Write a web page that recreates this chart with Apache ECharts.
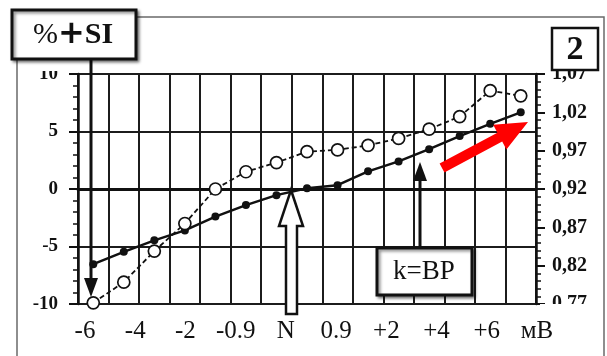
<!DOCTYPE html>
<html>
<head>
<meta charset="utf-8">
<title>%+SI / k</title>
<script src="https://cdn.jsdelivr.net/npm/echarts@6/dist/echarts.min.js"></script>
<style>
  html, body { margin: 0; padding: 0; background: #ffffff; }
  #chart { width: 607px; height: 356px; }
</style>
</head>
<body>
<div id="chart"></div>
<script>
// Measurement steps along the x axis (15 points, one per grid column)
var steps = ['1', '2', '3', '4', '5', '6', '7', '8', '9', '10', '11', '12', '13', '14', '15'];

// Printed labels under the plot
var tickLabels = ['-6', '-4', '-2', '-0.9', 'N', '0.9', '+2', '+4', '+6', 'мВ'];

// %+SI values, left axis (open circles, dashed line)
var siValues = [-9.9, -8.1, -5.4, -3.0, 0.0, 1.5, 2.3, 3.25, 3.4, 3.8, 4.4, 5.2, 6.3, 8.55, 8.1];

// k = BP values, right axis (filled dots, solid line)
var kValues = [0.822, 0.838, 0.853, 0.866, 0.884, 0.899, 0.912, 0.921, 0.925, 0.943, 0.956, 0.972, 0.989, 1.005, 1.020];

// Axis ranges
var leftAxis = { min: -10, max: 10, step: 5 };
var rightAxis = { min: 0.77, max: 1.07, step: 0.05 };

var SERIF = '"Liberation Serif", "Times New Roman", serif';
var INK = '#111111';

var chart = echarts.init(document.getElementById('chart'), null, { renderer: 'canvas' });

var option = {
  animation: false,
  backgroundColor: '#ffffff',
  grid: [
    { left: 78, right: 71, top: 74, bottom: 52, containLabel: false },
    { left: 85, right: 70, top: 74, bottom: 52, containLabel: false }
  ],
  xAxis: [
    {
      type: 'category',
      gridIndex: 0,
      data: steps,
      boundaryGap: true,
      axisLine: { show: true, onZero: true, lineStyle: { color: INK, width: 3 } },
      axisTick: { show: false },
      axisLabel: { show: false },
      splitLine: { show: true, interval: 0, lineStyle: { color: '#1c1c1c', width: 2 } }
    },
    {
      type: 'category',
      gridIndex: 1,
      data: tickLabels,
      boundaryGap: false,
      z: 20,
      axisLine: { show: false },
      axisTick: { show: false },
      splitLine: { show: false },
      axisLabel: {
        show: true,
        interval: 0,
        margin: 15,
        color: INK,
        fontFamily: SERIF,
        fontSize: 25
      }
    }
  ],
  yAxis: [
    {
      type: 'value',
      gridIndex: 0,
      position: 'left',
      min: leftAxis.min,
      max: leftAxis.max,
      interval: leftAxis.step,
      axisLine: { show: true, lineStyle: { color: INK, width: 2.5 } },
      axisTick: { show: true, inside: false, length: 9, lineStyle: { color: INK, width: 2 } },
      minorTick: { show: true, splitNumber: 5, length: 5, lineStyle: { color: INK, width: 1.5 } },
      splitLine: { show: true, lineStyle: { color: '#1c1c1c', width: 2 } },
      axisLabel: {
        margin: 20,
        color: INK,
        fontFamily: SERIF,
        fontWeight: 'bold',
        fontSize: 19
      }
    },
    {
      type: 'value',
      gridIndex: 0,
      position: 'right',
      min: rightAxis.min,
      max: rightAxis.max,
      interval: rightAxis.step,
      axisLine: { show: true, lineStyle: { color: INK, width: 2.5 } },
      axisTick: { show: true, inside: false, length: 9, lineStyle: { color: INK, width: 2 } },
      minorTick: { show: true, splitNumber: 5, length: 5, lineStyle: { color: INK, width: 1.5 } },
      splitLine: { show: false },
      axisLabel: {
        margin: 16,
        color: INK,
        fontFamily: SERIF,
        fontWeight: 'bold',
        fontSize: 20,
        formatter: function (v) { return v.toFixed(2).replace('.', ','); }
      }
    },
    {
      type: 'value',
      gridIndex: 1,
      show: false,
      min: 0,
      max: 1
    }
  ],
  series: [
    {
      name: 'k',
      type: 'line',
      xAxisIndex: 0,
      yAxisIndex: 1,
      data: kValues,
      z: 3,
      symbol: 'circle',
      symbolSize: 8,
      itemStyle: { color: INK },
      lineStyle: { color: INK, width: 2.5, type: 'solid' }
    },
    {
      name: '%+SI',
      type: 'line',
      xAxisIndex: 0,
      yAxisIndex: 0,
      data: siValues,
      z: 4,
      clip: false,
      symbol: 'circle',
      symbolSize: 12,
      itemStyle: { color: '#ffffff', borderColor: INK, borderWidth: 1.7 },
      lineStyle: { color: INK, width: 1.8, type: [5, 3] }
    }
  ],
  graphic: [
    // outer panel frame
    { type: 'rect', z: 1, shape: { x: 17, y: 17, width: 587, height: 360 },
      style: { fill: null, stroke: '#6a6a6a', lineWidth: 1.5 } },
    // white margins above and at the lower right of the plot
    { type: 'rect', z: 10, shape: { x: 19, y: 19, width: 584, height: 52 },
      style: { fill: '#ffffff' } },
    { type: 'rect', z: 10, shape: { x: 540, y: 304, width: 62, height: 20 },
      style: { fill: '#ffffff' } },

    // "%+SI" caption box with arrow down to the first point
    { type: 'line', z: 30, shape: { x1: 91, y1: 58, x2: 91, y2: 282 },
      style: { stroke: INK, lineWidth: 3 } },
    { type: 'polygon', z: 30, shape: { points: [[84, 278], [98, 278], [91, 297]] },
      style: { fill: INK } },
    { type: 'rect', z: 40, shape: { x: 12, y: 10, width: 124, height: 49 },
      style: { fill: '#ffffff', stroke: INK, lineWidth: 3,
               shadowBlur: 3, shadowOffsetX: 2, shadowOffsetY: 2, shadowColor: 'rgba(0,0,0,0.45)' } },
    { type: 'text', z: 41, x: 73, y: 35,
      style: {
        text: '{a|%}{b|+}{c|SI}',
        align: 'center', verticalAlign: 'middle',
        rich: {
          a: { font: '30px ' + SERIF, fill: INK },
          b: { font: 'bold 32px "DejaVu Sans", sans-serif', fill: INK },
          c: { font: 'bold 30px ' + SERIF, fill: INK }
        }
      } },

    // panel number
    { type: 'rect', z: 40, shape: { x: 552, y: 28, width: 46, height: 42 },
      style: { fill: '#ffffff', stroke: INK, lineWidth: 2.5 } },
    { type: 'text', z: 41, x: 575, y: 50,
      style: { text: '2', font: 'bold 34px ' + SERIF, fill: INK, align: 'center', verticalAlign: 'middle' } },

    // hollow arrow marking N
    { type: 'polygon', z: 30,
      shape: { points: [[291, 190], [303, 226], [297, 226], [297, 314], [286, 314], [286, 226], [279, 226]] },
      style: { fill: '#ffffff', stroke: INK, lineWidth: 2.5, lineJoin: 'miter' } },

    // "k=BP" box with arrow up to the k line
    { type: 'line', z: 30, shape: { x1: 420, y1: 250, x2: 420, y2: 178 },
      style: { stroke: INK, lineWidth: 3 } },
    { type: 'polygon', z: 30, shape: { points: [[413, 181], [427, 181], [420, 162]] },
      style: { fill: INK } },
    { type: 'rect', z: 40, shape: { x: 377, y: 248, width: 95, height: 47 },
      style: { fill: '#ffffff', stroke: INK, lineWidth: 3,
               shadowBlur: 3, shadowOffsetX: 2, shadowOffsetY: 2, shadowColor: 'rgba(0,0,0,0.45)' } },
    { type: 'text', z: 41, x: 424, y: 272,
      style: { text: 'k=BP', font: '27px ' + SERIF, fill: INK, align: 'center', verticalAlign: 'middle' } },

    // red arrow toward the right scale
    { type: 'polygon', z: 30,
      shape: { points: [[439.6, 163.6], [497.4, 132.7], [493.2, 124.7], [528, 122], [506.4, 149.5], [502.2, 141.5], [444.4, 172.4]] },
      style: { fill: '#ff0000' } }
  ]
};

chart.setOption(option);
</script>
</body>
</html>
